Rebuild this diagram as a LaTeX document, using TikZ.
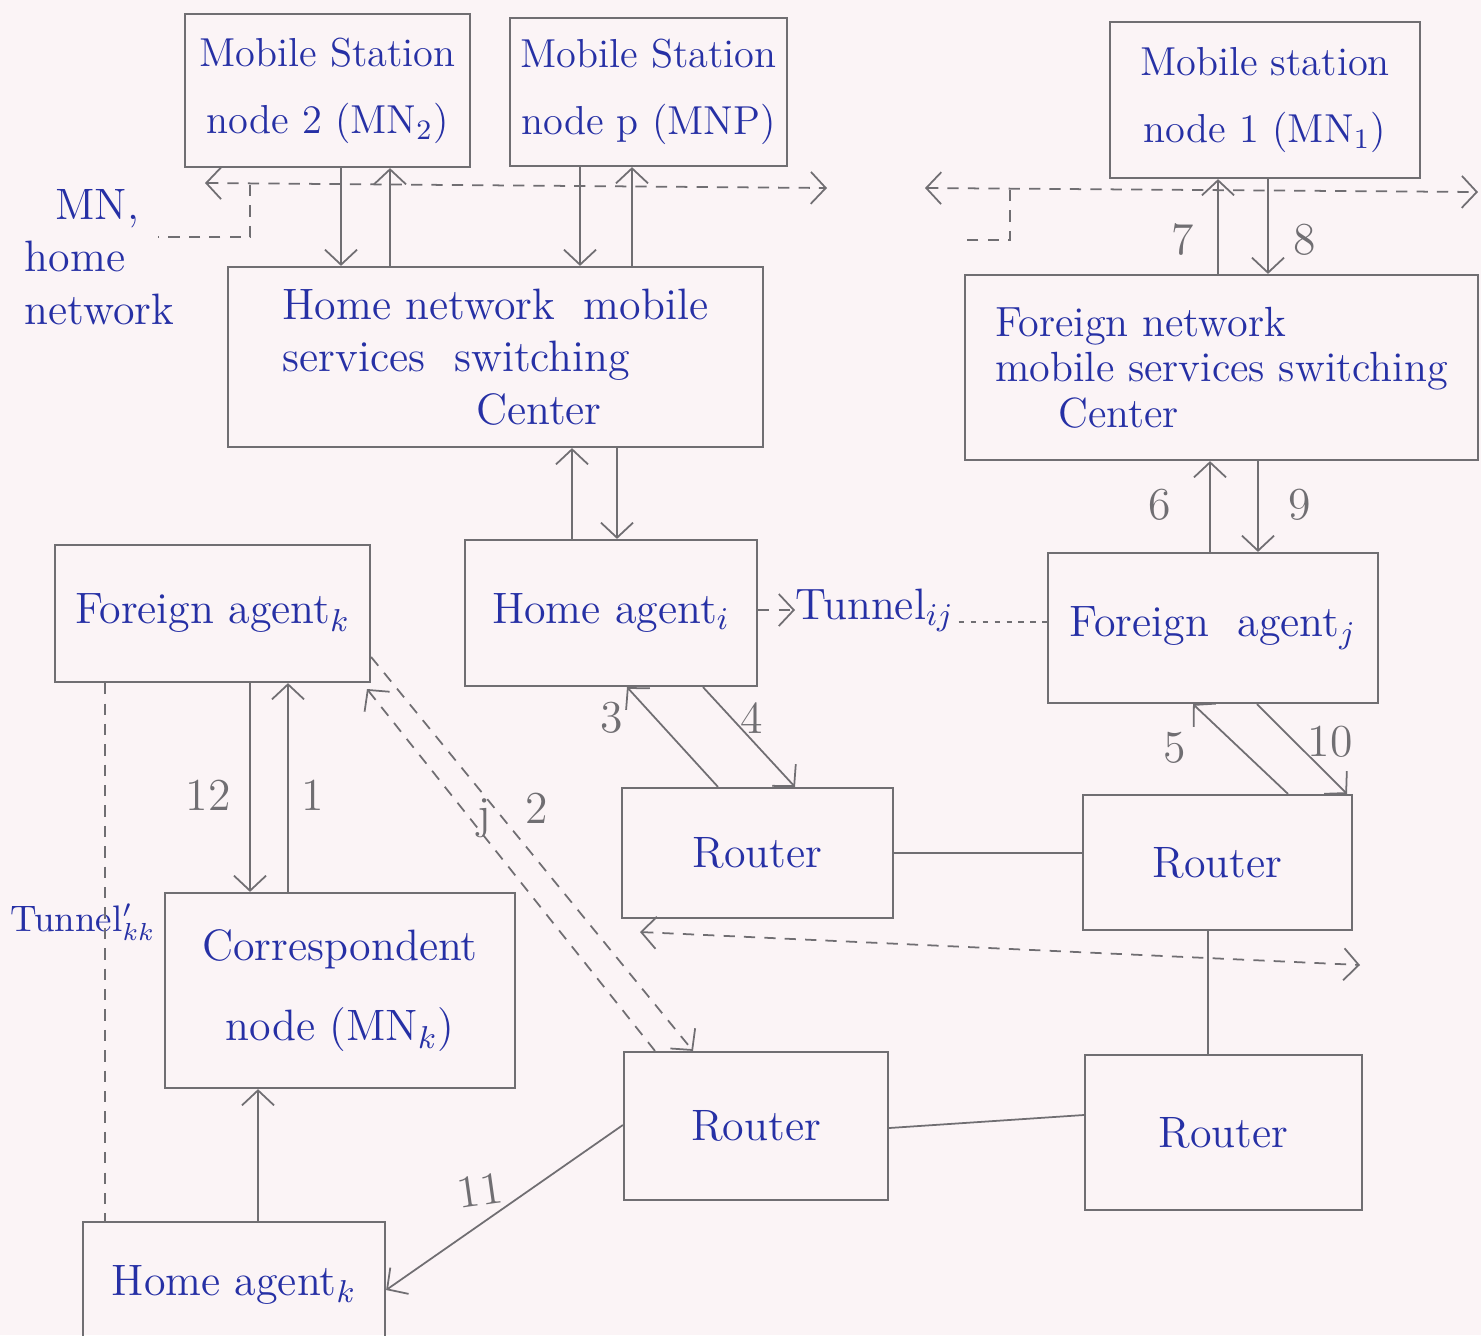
\documentclass[tikz,border=0pt]{standalone}
\usetikzlibrary{arrows.meta,calc}
\definecolor{paper}{RGB}{251,244,246}
\definecolor{pencil}{RGB}{112,110,114}
\definecolor{ink}{RGB}{38,48,165}
\begin{document}
\begin{tikzpicture}[x=0.01cm,y=-0.01cm,
  box/.style={draw=pencil, line width=0.6pt, rectangle, inner sep=0pt,
    text=ink, font=\fontsize{12.5}{21}\selectfont, align=center},
  arr/.style={draw=pencil, line width=0.5pt,
    -{Straight Barb[length=1.5mm,width=3.2mm]}},
  dbl/.style={arr, {Straight Barb[length=1.5mm,width=3.2mm]}-{Straight Barb[length=1.5mm,width=3.2mm]}},
  conn/.style={draw=pencil, line width=0.5pt},
  dsh/.style={dash pattern=on 3.2pt off 2.6pt},
  dots/.style={dash pattern=on 1.6pt off 1.8pt},
  num/.style={text=pencil, font=\fontsize{13}{13}\selectfont, inner sep=0pt},
  txt/.style={text=ink, font=\fontsize{12.5}{15}\selectfont, inner sep=0pt}
]
\fill[paper] (0,0) rectangle (1481,1335);
\useasboundingbox (0,0) rectangle (1481,1335);

% ---- mobile stations ----
\node[box, font=\fontsize{11.5}{19}\selectfont, minimum width=2.85cm, minimum height=1.53cm] (mn2) at (327.5,90.5)
  {Mobile Station\\node 2 (MN$_2$)};
\node[box, font=\fontsize{11.5}{19}\selectfont, minimum width=2.77cm, minimum height=1.48cm] (mnp) at (648.5,92)
  {Mobile Station\\node p (MNP)};
\node[box, font=\fontsize{11.5}{19}\selectfont, minimum width=3.10cm, minimum height=1.56cm] (mn1) at (1265,100)
  {Mobile station\\node 1 (MN$_1$)};

% ---- switching centres ----
\node[box, font=\fontsize{12.5}{15}\selectfont, minimum width=5.35cm, minimum height=1.80cm, align=left] (hn) at (495.5,357)
  {Home network \ mobile\\services \ switching\\\hspace*{4.4em}Center};
\node[box, font=\fontsize{12}{13}\selectfont, minimum width=5.13cm, minimum height=1.85cm, align=left] (fn) at (1221.5,367.5)
  {Foreign network\\mobile services switching\\\hspace*{1.5em}Center};

% ---- agents ----
\node[box, minimum width=3.15cm, minimum height=1.37cm] (fak) at (212.5,613.5)
  {Foreign agent$_k$};
\node[box, minimum width=2.92cm, minimum height=1.46cm] (ha) at (611,613)
  {Home agent$_i$};
\node[box, minimum width=3.30cm, minimum height=1.50cm] (faj) at (1213,628)
  {Foreign \ agent$_j$};

% ---- routers ----
\node[box, minimum width=2.71cm, minimum height=1.30cm] (r1) at (757.5,853) {Router};
\node[box, minimum width=2.69cm, minimum height=1.35cm] (r2) at (1217.5,862.5) {Router};
\node[box, minimum width=2.64cm, minimum height=1.48cm] (r3) at (756,1126) {Router};
\node[box, minimum width=2.77cm, minimum height=1.55cm] (r4) at (1223.5,1132.5) {Router};

% ---- correspondent side ----
\node[box, font=\fontsize{12.5}{23}\selectfont, minimum width=3.50cm, minimum height=1.95cm] (cn) at (340,990.5)
  {Correspondent\\node (MN$_k$)};
\node[box, minimum width=3.02cm, minimum height=1.26cm] (hak) at (234,1285)
  {Home agent$_k$};

% ---- free labels ----
\node[txt, anchor=west, align=left] (home) at (24,257) {\hspace*{0.7em}MN,\\home\\network};
\node[txt, anchor=west] (tun) at (795,610) {Tunnel$_{ij}$};
\node[txt, anchor=west, font=\fontsize{10.5}{12}\selectfont] (tunk) at (10,922) {Tunnel$'_{kk}$};

% ---- home network signalling (dashed) ----
\coordinate (hl) at (205,183);
\coordinate (hr) at (827,188);
\coordinate (hb) at (250,185);
\draw[dbl, dsh] (hl) -- (hr);
\draw[conn, dsh] (hb) -- (250,237) -- (158,237);

% ---- foreign network signalling (dashed) ----
\coordinate (fl) at (925,188);
\coordinate (fr) at (1478,192);
\coordinate (fb) at (1010,190);
\draw[dbl, dsh] (fl) -- (fr);
\draw[conn, dsh] (fb) -- (1010,240) -- (965,240);

% ---- MS <-> home MSC ----
\draw[arr] (mn2.south -| 341,0) -- (hn.north -| 341,0);
\draw[arr] (hn.north -| 390,0) -- (mn2.south -| 390,0);
\draw[arr] (mnp.south -| 580,0) -- (hn.north -| 580,0);
\draw[arr] (hn.north -| 632,0) -- (mnp.south -| 632,0);

% ---- MS1 <-> foreign MSC ----
\draw[arr] (fn.north -| 1218,0) -- (mn1.south -| 1218,0);
\draw[arr] (mn1.south -| 1268,0) -- (fn.north -| 1268,0);
\node[num] at (1183,240) {7};
\node[num] at (1305,240) {8};

% ---- home MSC <-> home agent ----
\draw[arr] (ha.north -| 572,0) -- (hn.south -| 572,0);
\draw[arr] (hn.south -| 617,0) -- (ha.north -| 617,0);

% ---- foreign MSC <-> foreign agent j ----
\draw[arr] (faj.north -| 1210,0) -- (fn.south -| 1210,0);
\draw[arr] (fn.south -| 1258,0) -- (faj.north -| 1258,0);
\node[num] at (1160,505) {6};
\node[num] at (1300,505) {9};

% ---- tunnel from home agent to foreign agent j ----
\draw[arr, dsh] (ha.east |- tun.west) -- (tun.west);
\draw[conn, dots] (tun.east) ++(4,12) -- (faj.west |- 0,622);

% ---- home agent <-> router ----
\draw[arr] (r1.north -| 718,0) -- (ha.south -| 627,0);
\draw[arr] (ha.south -| 703,0) -- (r1.north -| 795,0);
\node[num] at (612,718) {3};
\node[num] at (752,718) {4};

% ---- foreign agent j <-> router ----
\draw[arr] (r2.north -| 1288,0) -- (faj.south -| 1193,0);
\draw[arr] (faj.south -| 1257,0) -- (r2.north -| 1347,0);
\node[num] at (1175,748) {5};
\node[num] at (1330,742) {10};

% ---- router mesh ----
\draw[conn] (r1.east) -- (r2.west |- r1.east);
\coordinate (rl) at (640,932);
\coordinate (rr) at (1360,965);
\draw[dbl, dsh] (rl) -- (rr);
\draw[conn] (r2.south -| 1208,0) -- (r4.north -| 1208,0);
\draw[conn] (r3.east |- 0,1128) -- (r4.west |- 0,1115);

% ---- foreign agent k <-> correspondent node ----
\draw[arr] (fak.south -| 250,0) -- (cn.north -| 250,0);
\draw[arr] (cn.north -| 288,0) -- (fak.south -| 288,0);
\node[num] at (208,795) {12};
\node[num] at (313,795) {1};

% ---- foreign agent k <-> router (dashed pair) ----
\draw[arr, dsh] (fak.east |- 0,657) -- (r3.north -| 693,0);
\draw[arr, dsh] (r3.north -| 655,0) -- (367,689);
\node[num] at (484,818) {j};
\node[num] at (537,808) {2};

% ---- router -> home agent k -> correspondent node ----
\draw[arr] (r3.west |- 0,1125) -- (hak.east |- 0,1290);
\node[num, rotate=8] at (480,1190) {11};
\draw[arr] (hak.north -| 258,0) -- (cn.south -| 258,0);

% ---- tunnel' between foreign agent k and home agent k ----
\draw[conn, dsh] (fak.south -| 105,0) -- (hak.north -| 105,0);

\end{tikzpicture}
\end{document}
